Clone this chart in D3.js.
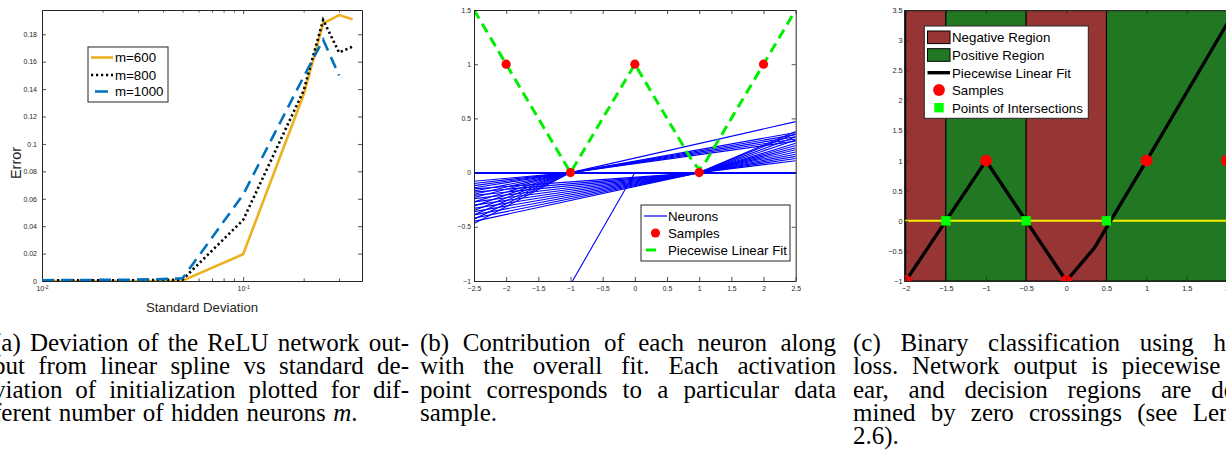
<!DOCTYPE html>
<html><head><meta charset="utf-8">
<script src="https://cdn.jsdelivr.net/npm/d3@7"></script>
<style>
html,body{margin:0;padding:0;background:#fff;overflow:hidden}
svg{display:block}
</style></head><body>
<svg id="chart" width="1226" height="457"></svg>
<script>
// ---------- Panel (a) data ----------
const sdValues = [0.01, 0.02, 0.03, 0.04, 0.05, 0.1, 0.2, 0.25, 0.3, 0.35];
const errM600  = [0, 0, 0, 0, 0.0003, 0.0195, 0.136, 0.188, 0.194, 0.191];
const errM800  = [0.0004, 0.0005, 0.0006, 0.0008, 0.001, 0.0445, 0.139, 0.1905, 0.1667, 0.171];
const errM1000 = [0.0006, 0.0008, 0.001, 0.0014, 0.002, 0.063, 0.149, 0.176, 0.150, null];
const seriesNamesA = ["m=600", "m=800", "m=1000"];
const yTicksA = [0, 0.02, 0.04, 0.06, 0.08, 0.1, 0.12, 0.14, 0.16, 0.18];
const xMajorTicksA = [0.01, 0.1];
const xMinorTicksA = [0.02, 0.03, 0.04, 0.05, 0.06, 0.07, 0.08, 0.09, 0.2, 0.3];

// ---------- Panel (b) data ----------
const samplesBx = [-2, -1, 0, 1, 2];
const samplesBy = [1, 0, 1, 0, 1];
const fitBx = [-2.5, -2, -1, 0, 0.9, 1, 1.1, 2, 2.5];
const fitBy = [1.5, 1, 0, 1, 0.1, 0.03, 0.1, 1, 1.5];
// neurons active left of knot: value at x = -2.5
const neuronsLeftKnotM1 = [-0.08, -0.10, -0.12, -0.14, -0.17, -0.20, -0.23, -0.27, -0.31, -0.35, -0.39, -0.43, -0.47];
const neuronsLeftKnot1  = [-0.15, -0.18, -0.21, -0.24, -0.27, -0.30, -0.33, -0.36, -0.39, -0.42, -0.45];
const neuronsLeftKnot0  = [-2.58];
// neurons active right of knot: value at x = 2.5
const neuronsRightKnotM1 = [0.47, 0.37, 0.35, 0.33, 0.31, 0.29];
const neuronsRightKnot1  = [0.11, 0.13, 0.15, 0.17, 0.19, 0.21, 0.23, 0.25, 0.27, 0.30, 0.33, 0.36, 0.38];
const ticksBx = [-2.5, -2, -1.5, -1, -0.5, 0, 0.5, 1, 1.5, 2, 2.5];
const ticksBy = [-1, -0.5, 0, 0.5, 1, 1.5];
const legendB = ["Neurons", "Samples", "Piecewise Linear Fit"];

// ---------- Panel (c) data ----------
const regionStart = [-2.02, -2, -1.5, -0.5, 0.5];
const regionEnd   = [-2, -1.5, -0.5, 0.5, 2.5];
const regionClass = ["pos", "neg", "pos", "neg", "pos"];
const fitCx = [-2, -1.5, -1, -0.5, 0, 0.35, 1, 2.1];
const fitCy = [-1, 0, 1, 0, -1, -0.45, 1, 3.5];
const samplesCx = [-2, -1, 0, 1, 2];
const samplesCy = [-1, 1, -1, 1, 1];
const crossX = [-1.5, -0.5, 0.5];
const crossY = [0, 0, 0];
const ticksCx = [-2, -1.5, -1, -0.5, 0, 0.5, 1, 1.5, 2];
const ticksCy = [-1, -0.5, 0, 0.5, 1, 1.5, 2, 2.5, 3, 3.5];
const legendC = ["Negative Region", "Positive Region", "Piecewise Linear Fit", "Samples", "Points of Intersections"];

// ---------- Captions ----------
const captionA = [
  "(a) Deviation of the ReLU network out-",
  "put from linear spline vs standard de-",
  "viation of initialization plotted for dif-",
  "ferent number of hidden neurons $m$."
];
const captionB = [
  "(b) Contribution of each neuron along",
  "with the overall fit.  Each activation",
  "point corresponds to a particular data",
  "sample."
];
const captionC = [
  "(c) Binary classification using hinge",
  "loss.  Network output is piecewise lin-",
  "ear, and decision regions are deter-",
  "mined by zero crossings (see Lemma",
  "2.6)."
];

const svg = d3.select("#chart");
svg.append("rect").attr("width", 1226).attr("height", 457).attr("fill", "#fff");
const SANS = "'Liberation Sans', Arial, Helvetica, sans-serif";
const AX = "#262626";

function styleAxis(g, fs) {
  g.select(".domain").attr("stroke", AX).attr("stroke-width", 1);
  g.selectAll(".tick line").attr("stroke", AX).attr("stroke-width", 0.8);
  g.selectAll(".tick text").attr("fill", AX).attr("font-family", SANS).attr("font-size", fs);
}
function frame(g, xs, ys, xt, yt, opts) {
  const [x0, x1] = xs.range(); const [y0, y1] = ys.range();
  const fs = opts.fs;
  const bot = g.append("g").attr("transform", `translate(0,${y0})`)
    .call(d3.axisBottom(xs).tickValues(xt).tickSizeInner(-4).tickSizeOuter(0).tickPadding(opts.padX).tickFormat(opts.fx || d3.format("")));
  styleAxis(bot, fs);
  const top = g.append("g").attr("transform", `translate(0,${y1})`)
    .call(d3.axisTop(xs).tickValues(xt).tickSizeInner(-4).tickSizeOuter(0).tickFormat(""));
  styleAxis(top, fs);
  const left = g.append("g").attr("transform", `translate(${x0},0)`)
    .call(d3.axisLeft(ys).tickValues(yt).tickSizeInner(-4).tickSizeOuter(0).tickPadding(opts.padY).tickFormat(d3.format("")));
  styleAxis(left, fs);
  const right = g.append("g").attr("transform", `translate(${x1},0)`)
    .call(d3.axisRight(ys).tickValues(yt).tickSizeInner(-4).tickSizeOuter(0).tickFormat(""));
  styleAxis(right, fs);
  return bot;
}

// ================= Panel (a) =================
{
  const g = svg.append("g");
  const x = d3.scaleLog().domain([0.01, 0.39]).range([42, 362]);
  const y = d3.scaleLinear().domain([0, 0.1977]).range([281, 10]);
  g.append("defs").append("clipPath").attr("id", "clipA").append("rect")
    .attr("x", 42).attr("y", 10).attr("width", 320).attr("height", 271);
  const bot = frame(g, x, y, xMajorTicksA, yTicksA, {fs: 7, padX: 5, padY: 5, fx: d => d});
  bot.selectAll(".tick text").text(null).each(function(d) {
    const t = d3.select(this);
    t.append("tspan").text("10");
    t.append("tspan").attr("font-size", 5).attr("dy", "-0.45em").text(Math.round(Math.log10(d)));
  });
  // minor ticks
  const mb = g.append("g").attr("transform", "translate(0,281)")
    .call(d3.axisBottom(x).tickValues(xMinorTicksA).tickSizeInner(-2.5).tickSizeOuter(0).tickFormat(""));
  styleAxis(mb, 7); mb.select(".domain").remove();
  const mt = g.append("g").attr("transform", "translate(0,10)")
    .call(d3.axisTop(x).tickValues(xMinorTicksA).tickSizeInner(-2.5).tickSizeOuter(0).tickFormat(""));
  styleAxis(mt, 7); mt.select(".domain").remove();

  const series = [
    {v: errM600, color: "#EDB120", dash: null},
    {v: errM800, color: "#000000", dash: "2.2,2.8"},
    {v: errM1000, color: "#0072BD", dash: "12,7"}
  ];
  const line = d3.line().defined(d => d[1] != null).x(d => x(d[0])).y(d => y(d[1]));
  const pg = g.append("g").attr("clip-path", "url(#clipA)");
  series.forEach(s => {
    pg.append("path").datum(sdValues.map((sd, i) => [sd, s.v[i]]))
      .attr("d", line).attr("fill", "none").attr("stroke", s.color).attr("stroke-width", 2.6)
      .attr("stroke-dasharray", s.dash);
  });
  // legend
  const lg = g.append("g");
  lg.append("rect").attr("x", 88).attr("y", 47).attr("width", 80).attr("height", 55)
    .attr("fill", "#fff").attr("stroke", AX).attr("stroke-width", 1);
  const ly = [57.5, 75, 91.5];
  series.forEach((s, i) => {
    lg.append("line").attr("x1", 91).attr("x2", 113).attr("y1", ly[i]).attr("y2", ly[i])
      .attr("stroke", s.color).attr("stroke-width", 2.6).attr("stroke-dasharray", i === 2 ? "0,4,13,20" : s.dash);
    lg.append("text").attr("x", 115).attr("y", ly[i] + 4.7).attr("font-family", SANS).attr("font-size", 13.3)
      .attr("fill", "#000").text(seriesNamesA[i]);
  });
  g.append("text").attr("x", 202).attr("y", 312).attr("text-anchor", "middle").attr("font-family", SANS)
    .attr("font-size", 13.2).attr("fill", AX).text("Standard Deviation");
  g.append("text").attr("transform", "translate(20.5,163) rotate(-90)").attr("text-anchor", "middle")
    .attr("font-family", SANS).attr("font-size", 14.5).attr("fill", AX).text("Error");
}

// ================= Panel (b) =================
{
  const g = svg.append("g");
  const x = d3.scaleLinear().domain([-2.5, 2.5]).range([474, 795.7]);
  const y = d3.scaleLinear().domain([-1, 1.5]).range([281, 10]);
  g.append("defs").append("clipPath").attr("id", "clipB").append("rect")
    .attr("x", 474).attr("y", 10).attr("width", 321.7).attr("height", 271);
  const pg = g.append("g").attr("clip-path", "url(#clipB)");
  const line = d3.line().x(d => x(d[0])).y(d => y(d[1]));
  const neurons = [];
  neuronsLeftKnotM1.forEach(v => neurons.push([[-2.5, v], [-1, 0], [2.5, 0]]));
  neuronsLeftKnot1.forEach(v => neurons.push([[-2.5, v], [1, 0], [2.5, 0]]));
  neuronsLeftKnot0.forEach(v => neurons.push([[-2.5, v], [0, 0], [2.5, 0]]));
  neuronsRightKnotM1.forEach(v => neurons.push([[-2.5, 0], [-1, 0], [2.5, v]]));
  neuronsRightKnot1.forEach(v => neurons.push([[-2.5, 0], [1, 0], [2.5, v]]));
  pg.selectAll("path.neuron").data(neurons).join("path").attr("class", "neuron")
    .attr("d", line).attr("fill", "none").attr("stroke", "#0000ff").attr("stroke-width", 1.1);
  pg.append("path").datum(fitBx.map((v, i) => [v, fitBy[i]])).attr("d", line)
    .attr("fill", "none").attr("stroke", "#00ee00").attr("stroke-width", 3).attr("stroke-dasharray", "10,6");
  pg.selectAll("circle").data(samplesBx.map((v, i) => [v, samplesBy[i]])).join("circle")
    .attr("cx", d => x(d[0])).attr("cy", d => y(d[1])).attr("r", 4.6).attr("fill", "#ff0000");
  frame(g, x, y, ticksBx, ticksBy, {fs: 6.8, padX: 5, padY: 3});
  // legend
  const lg = g.append("g");
  lg.append("rect").attr("x", 641).attr("y", 205).attr("width", 149).attr("height", 56)
    .attr("fill", "#fff").attr("stroke", AX).attr("stroke-width", 1);
  const ly = [216, 233, 250];
  lg.append("line").attr("x1", 644).attr("x2", 667).attr("y1", ly[0]).attr("y2", ly[0]).attr("stroke", "#0000ff").attr("stroke-width", 1.2);
  lg.append("circle").attr("cx", 655.5).attr("cy", ly[1]).attr("r", 4.6).attr("fill", "#ff0000");
  lg.append("line").attr("x1", 644).attr("x2", 667).attr("y1", ly[2]).attr("y2", ly[2]).attr("stroke", "#00ee00")
    .attr("stroke-width", 3).attr("stroke-dasharray", "0,2,10,20");
  legendB.forEach((t, i) => lg.append("text").attr("x", 668).attr("y", ly[i] + 4.7).attr("font-family", SANS)
    .attr("font-size", 13.3).attr("fill", "#000").text(t));
}

// ================= Panel (c) =================
{
  const g = svg.append("g");
  const x = d3.scaleLinear().domain([-2.02, 2.5]).range([905.7 - 0.02 * 80.3, 905.7 + 4.5 * 80.3]);
  const y = d3.scaleLinear().domain([-1, 3.5]).range([281, 10.3]);
  const colors = {neg: "#973434", pos: "#227822"};
  g.append("defs").append("clipPath").attr("id", "clipC").append("rect")
    .attr("x", x.range()[0]).attr("y", 10.3).attr("width", x.range()[1] - x.range()[0]).attr("height", 270.7);
  const pg = g.append("g").attr("clip-path", "url(#clipC)");
  pg.selectAll("rect.reg").data(regionStart.map((s, i) => [s, regionEnd[i], regionClass[i]])).join("rect")
    .attr("class", "reg").attr("x", d => x(d[0])).attr("width", d => x(d[1]) - x(d[0]))
    .attr("y", y(3.5)).attr("height", y(-1) - y(3.5)).attr("fill", d => colors[d[2]])
    .attr("stroke", "#000").attr("stroke-width", 1);
  const line = d3.line().x(d => x(d[0])).y(d => y(d[1]));
  pg.append("path").datum([[-2.02, 0], [2.5, 0]]).attr("d", line).attr("stroke", "#f2f200").attr("stroke-width", 2).attr("fill", "none");
  pg.append("path").datum(fitCx.map((v, i) => [v, fitCy[i]])).attr("d", line)
    .attr("fill", "none").attr("stroke", "#000").attr("stroke-width", 3.4).attr("stroke-linejoin", "round");
  pg.selectAll("circle").data(samplesCx.map((v, i) => [v, samplesCy[i]])).join("circle")
    .attr("cx", d => x(d[0])).attr("cy", d => y(d[1])).attr("r", 5.9).attr("fill", "#ff0000");
  pg.selectAll("rect.cross").data(crossX.map((v, i) => [v, crossY[i]])).join("rect").attr("class", "cross")
    .attr("x", d => x(d[0]) - 4.7).attr("y", d => y(d[1]) - 4.7).attr("width", 9.4).attr("height", 9.4).attr("fill", "#00ff00");
  frame(g, x, y, ticksCx, ticksCy, {fs: 7.3, padX: 5, padY: 1.5});
  // legend
  const lg = g.append("g");
  lg.append("rect").attr("x", 924.3).attr("y", 26).attr("width", 164).attr("height", 92.3)
    .attr("fill", "#fff").attr("stroke", AX).attr("stroke-width", 1);
  const ly = [37.3, 55, 72.7, 90, 107.7];
  lg.append("rect").attr("x", 927.5).attr("y", ly[0] - 6.3).attr("width", 22.5).attr("height", 12.6).attr("fill", colors.neg).attr("stroke", "#000");
  lg.append("rect").attr("x", 927.5).attr("y", ly[1] - 6.3).attr("width", 22.5).attr("height", 12.6).attr("fill", colors.pos).attr("stroke", "#000");
  lg.append("line").attr("x1", 927.5).attr("x2", 950).attr("y1", ly[2]).attr("y2", ly[2]).attr("stroke", "#000").attr("stroke-width", 3.4);
  lg.append("circle").attr("cx", 939).attr("cy", ly[3]).attr("r", 5.9).attr("fill", "#ff0000");
  lg.append("rect").attr("x", 934.3).attr("y", ly[4] - 4.7).attr("width", 9.4).attr("height", 9.4).attr("fill", "#00ff00");
  legendC.forEach((t, i) => lg.append("text").attr("x", 952).attr("y", ly[i] + 4.8).attr("font-family", SANS)
    .attr("font-size", 13.3).attr("fill", "#000").text(t));
}

// ================= Captions =================
const SERIF = "'Liberation Serif', 'Times New Roman', serif";
const CAP_FS = 25, CAP_LH = 23.3, CAP_Y0 = 351, CAP_W = 416;
function addWord(g, word, xpos, ypos) {
  const t = g.append("text").attr("x", xpos).attr("y", ypos).attr("font-family", SERIF)
    .attr("font-size", CAP_FS).attr("fill", "#000");
  const parts = word.split("$");
  parts.forEach((p, i) => { if (p) t.append("tspan").attr("font-style", i % 2 ? "italic" : "normal").text(p); });
  return t;
}
function caption(lines, x0) {
  const g = svg.append("g");
  lines.forEach((ln, li) => {
    const yy = CAP_Y0 + li * CAP_LH;
    const words = ln.split(/\s+/);
    const last = li === lines.length - 1;
    const nodes = words.map(w => addWord(g, w, 0, yy));
    const widths = nodes.map(n => n.node().getComputedTextLength());
    const total = d3.sum(widths);
    const gap = last ? CAP_FS * 0.3 : (CAP_W - total) / Math.max(1, words.length - 1);
    let cur = x0;
    nodes.forEach((n, i) => { n.attr("x", cur); cur += widths[i] + gap; });
  });
}
caption(captionA, -7);
caption(captionB, 420);
caption(captionC, 853);
</script>
</body></html>
